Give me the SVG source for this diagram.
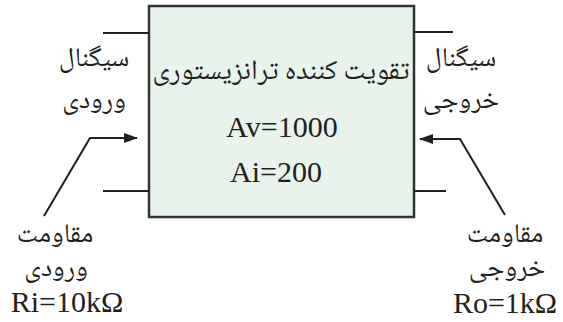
<svg xmlns="http://www.w3.org/2000/svg" width="563" height="322" viewBox="0 0 563 322">
<defs>
<marker id="ah" markerWidth="14" markerHeight="10" refX="13" refY="5" orient="auto" markerUnits="userSpaceOnUse">
<path d="M0,0 L14,5 L0,10 Z" fill="#231f20"/>
</marker>
<style>
.fa{font-family:"Noto Naskh Arabic","Noto Sans Arabic","DejaVu Sans",sans-serif;font-size:27px;fill:#231f20;text-anchor:middle}
.lt{font-family:"Liberation Serif","Times New Roman",serif;font-size:30px;fill:#231f20;text-anchor:middle}
.ln{stroke:#231f20;stroke-width:2;fill:none}
</style>
</defs>
<rect width="563" height="322" fill="#ffffff"/>
<g id="amplifier">
<rect x="149" y="6" width="265" height="211" fill="#e8f3ec" stroke="#333333" stroke-width="2.5"/>
<text class="fa" x="281" y="79" style="font-size:28px">تقویت کننده ترانزیستوری</text>
<text class="lt" x="282" y="137" font-family="Liberation Serif">Av=1000</text>
<text class="lt" x="276" y="182" font-family="Liberation Serif">Ai=200</text>
</g>
<g id="input-signal">
<text class="fa" x="94" y="66">سیگنال</text>
<text class="fa" x="94" y="108">ورودی</text>
</g>
<g id="output-signal">
<text class="fa" x="461" y="66">سیگنال</text>
<text class="fa" x="461" y="108">خروجی</text>
</g>
<g id="input-resistance">
<text class="fa" x="55" y="242">مقاومت</text>
<text class="fa" x="56" y="276">ورودی</text>
<text class="lt" x="67" y="312" font-family="Liberation Serif">Ri=10kΩ</text>
</g>
<g id="output-resistance">
<text class="fa" x="505" y="242">مقاومت</text>
<text class="fa" x="507" y="276">خروجی</text>
<text class="lt" x="505" y="313" font-family="Liberation Serif">Ro=1kΩ</text>
</g>
<g id="connectors">
<line class="ln" x1="103" y1="33" x2="149" y2="33"/>
<line class="ln" x1="103" y1="191" x2="149" y2="191"/>
<line class="ln" x1="414" y1="32" x2="453" y2="32"/>
<line class="ln" x1="414" y1="191" x2="446" y2="191"/>
<polyline class="ln" points="44,216 90,138 137,138" marker-end="url(#ah)"/>
<polyline class="ln" points="505,215 460,139 420,139" marker-end="url(#ah)"/>
</g>
</svg>
